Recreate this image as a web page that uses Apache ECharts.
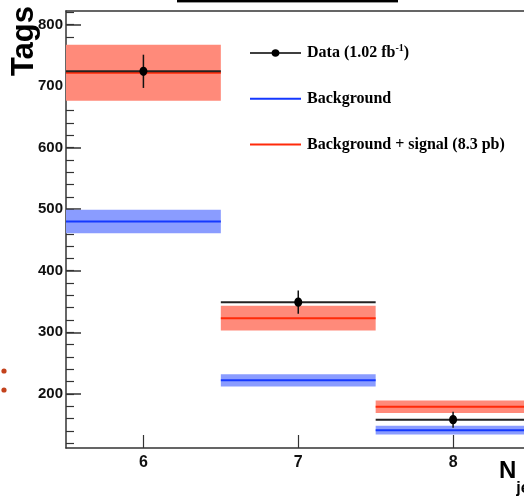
<!DOCTYPE html>
<html>
<head>
<meta charset="utf-8">
<script src="https://cdn.jsdelivr.net/npm/echarts@6/dist/echarts.min.js"></script>
<style>
html,body{margin:0;padding:0;background:#fff;}
#chart{width:524px;height:497px;}
</style>
</head>
<body>
<div id="chart"></div>
<script>
// ---- data ----
const binCenters = [6, 7, 8];
const binLow  = [5.5, 6.5, 7.5];
const binHigh = [6.5, 7.5, 8.5];
const dataVals = [724, 349, 158];
const dataErrs = [27, 19, 13];
const bkgVals = [480, 222, 141];
const bkgErrs = [19, 10, 7];
const sigVals = [721.5, 323, 179];
const sigErrs = [45.5, 20, 10];
const yMajorTicks = [200, 300, 400, 500, 600, 700, 800];
const yMinorTicks = [120, 140, 160, 180, 200, 220, 240, 260, 280, 300, 320, 340, 360, 380, 400,
  420, 440, 460, 480, 500, 520, 540, 560, 580, 600, 620, 640, 660, 680, 700, 720, 740, 760, 780, 800, 820];
const xTicks = [6, 7, 8];

const rows = (vals, errs) => binCenters.map((c, i) => [binLow[i], binHigh[i], vals[i], errs[i], c]);

function bandRender(fill, stroke) {
  return function (params, api) {
    const x0 = api.value(0), x1 = api.value(1), v = api.value(2), e = api.value(3);
    const tl = api.coord([x0, v + e]);
    const br = api.coord([x1, v - e]);
    const l = api.coord([x0, v]);
    const r = api.coord([x1, v]);
    return {
      type: 'group',
      children: [
        { type: 'rect', shape: { x: tl[0], y: tl[1], width: br[0] - tl[0], height: br[1] - tl[1] }, style: { fill: fill } },
        { type: 'line', shape: { x1: l[0], y1: l[1], x2: r[0], y2: r[1] }, style: { stroke: stroke, lineWidth: 2 } }
      ]
    };
  };
}

function dataRender(params, api) {
  const x0 = api.value(0), x1 = api.value(1), v = api.value(2), e = api.value(3), c = api.value(4);
  const l = api.coord([x0, v]);
  const r = api.coord([x1, v]);
  const top = api.coord([c, v + e]);
  const bot = api.coord([c, v - e]);
  const ctr = api.coord([c, v]);
  return {
    type: 'group',
    children: [
      { type: 'line', shape: { x1: l[0], y1: l[1], x2: r[0], y2: r[1] }, style: { stroke: '#222', lineWidth: 2 } },
      { type: 'line', shape: { x1: top[0], y1: top[1], x2: bot[0], y2: bot[1] }, style: { stroke: '#111', lineWidth: 1.5 } },
      { type: 'ellipse', shape: { cx: ctr[0], cy: ctr[1], rx: 4, ry: 4.6 }, style: { fill: '#000' } }
    ]
  };
}

const chart = echarts.init(document.getElementById('chart'), null, { renderer: 'canvas' });

const axisCol = '#333';
const option = {
  animation: false,
  backgroundColor: '#fff',
  grid: { left: 66, right: -6.5, top: 11, bottom: 49, containLabel: false, outerBoundsMode: 'none' },
  xAxis: [
    {
      type: 'value', min: 5.5, max: 8.5, position: 'bottom',
      axisLine: { show: true, onZero: false, lineStyle: { color: axisCol, width: 1.5 } },
      axisTick: { show: true, inside: true, length: 13, customValues: xTicks, lineStyle: { color: axisCol, width: 1.2 } },
      axisLabel: { show: true, customValues: xTicks, margin: 7, fontFamily: 'Liberation Sans', fontWeight: 'bold', fontSize: 16, color: '#111' },
      splitLine: { show: false },
      name: '{n|N}{s|jet}',
      nameLocation: 'end',
      nameGap: -31.5,
      nameTextStyle: {
        align: 'left', verticalAlign: 'top', padding: [11, 0, 0, 0],
        rich: {
          n: { fontFamily: 'Liberation Sans', fontWeight: 'bold', fontSize: 24, lineHeight: 24, verticalAlign: 'top', color: '#000' },
          s: { fontFamily: 'Liberation Sans', fontWeight: 'bold', fontSize: 16, lineHeight: 38, verticalAlign: 'bottom', color: '#000' }
        }
      }
    },
    {
      type: 'value', min: 5.5, max: 8.5, position: 'top',
      axisLine: { show: true, onZero: false, lineStyle: { color: axisCol, width: 1.5 } },
      axisTick: { show: false }, axisLabel: { show: false }, splitLine: { show: false }
    }
  ],
  yAxis: [
    {
      type: 'value', min: 112, max: 822, position: 'left',
      axisLine: { show: true, onZero: false, lineStyle: { color: axisCol, width: 1.5 } },
      axisTick: { show: true, inside: true, length: 8, customValues: yMinorTicks, lineStyle: { color: axisCol, width: 1.2 } },
      axisLabel: { show: false },
      splitLine: { show: false },
      name: 'Tags',
      nameLocation: 'end',
      nameRotate: 90,
      nameGap: 5,
      nameTextStyle: {
        fontFamily: 'Liberation Sans', fontWeight: 'bold', fontSize: 31, color: '#000',
        align: 'right', verticalAlign: 'bottom', padding: [0, 0, 26, 0]
      }
    },
    {
      type: 'value', min: 112, max: 822, position: 'left', offset: 0,
      axisLine: { show: false },
      axisTick: { show: true, inside: true, length: 15, customValues: yMajorTicks, lineStyle: { color: axisCol, width: 1.5 } },
      axisLabel: { show: true, customValues: yMajorTicks, margin: 3, fontFamily: 'Liberation Sans', fontWeight: 'bold', fontSize: 15, color: '#111' },
      splitLine: { show: false }
    }
  ],
  legend: {
    orient: 'vertical',
    left: 245, top: 38,
    itemWidth: 51, itemHeight: 20, itemGap: 29.8,
    selectedMode: false,
    data: [
      { name: 'Data', icon: 'path://M0,3 L22,3 L22,4.6 L0,4.6 Z M29,3 L51,3 L51,4.6 L29,4.6 Z M25.5,0 C27.7,0 29.5,1.7 29.5,3.8 C29.5,5.9 27.7,7.6 25.5,7.6 C23.3,7.6 21.5,5.9 21.5,3.8 C21.5,1.7 23.3,0 25.5,0 Z' },
      { name: 'Background', icon: 'path://M0,0 L51,0 L51,2 L0,2 Z' },
      { name: 'Background + signal (8.3 pb)', icon: 'path://M0,0 L51,0 L51,2 L0,2 Z' }
    ],
    formatter: function (name) {
      if (name === 'Data') return '{t|Data (1.02 fb}{sup|-1}{t|)}';
      return '{t|' + name + '}';
    },
    textStyle: {
      fontFamily: 'Liberation Serif', fontWeight: 'bold', fontSize: 16, color: '#000',
      padding: [0, 0, 0, 1],
      rich: {
        t: { fontFamily: 'Liberation Serif', fontWeight: 'bold', fontSize: 16, lineHeight: 20, verticalAlign: 'middle', color: '#000' },
        sup: { fontFamily: 'Liberation Serif', fontWeight: 'bold', fontSize: 10, lineHeight: 10, verticalAlign: 'top', color: '#000' }
      }
    }
  },
  graphic: [
    { type: 'rect', shape: { x: 177, y: 0, width: 221, height: 2 }, style: { fill: '#000' }, silent: true },
    { type: 'rect', shape: { x: 177, y: 2, width: 221, height: 1 }, style: { fill: '#999' }, silent: true },
    { type: 'circle', shape: { cx: 4, cy: 371, r: 2.6 }, style: { fill: '#c3421c' }, silent: true },
    { type: 'circle', shape: { cx: 4, cy: 390, r: 2.6 }, style: { fill: '#c3421c' }, silent: true }
  ],
  series: [
    {
      name: 'Background', type: 'custom', xAxisIndex: 0, yAxisIndex: 0, clip: true,
      itemStyle: { color: '#1438ff' },
      renderItem: bandRender('#8a9cff', '#1438ff'),
      encode: { x: [0, 1], y: 2 },
      data: rows(bkgVals, bkgErrs)
    },
    {
      name: 'Background + signal (8.3 pb)', type: 'custom', xAxisIndex: 0, yAxisIndex: 0, clip: true,
      itemStyle: { color: '#ff2a0a' },
      renderItem: bandRender('#ff8a7a', '#ff2a0a'),
      encode: { x: [0, 1], y: 2 },
      data: rows(sigVals, sigErrs)
    },
    {
      name: 'Data', type: 'custom', xAxisIndex: 0, yAxisIndex: 0, clip: true,
      itemStyle: { color: '#000' },
      renderItem: dataRender,
      encode: { x: [0, 1], y: 2 },
      data: rows(dataVals, dataErrs)
    }
  ]
};
chart.setOption(option);
</script>
</body>
</html>
